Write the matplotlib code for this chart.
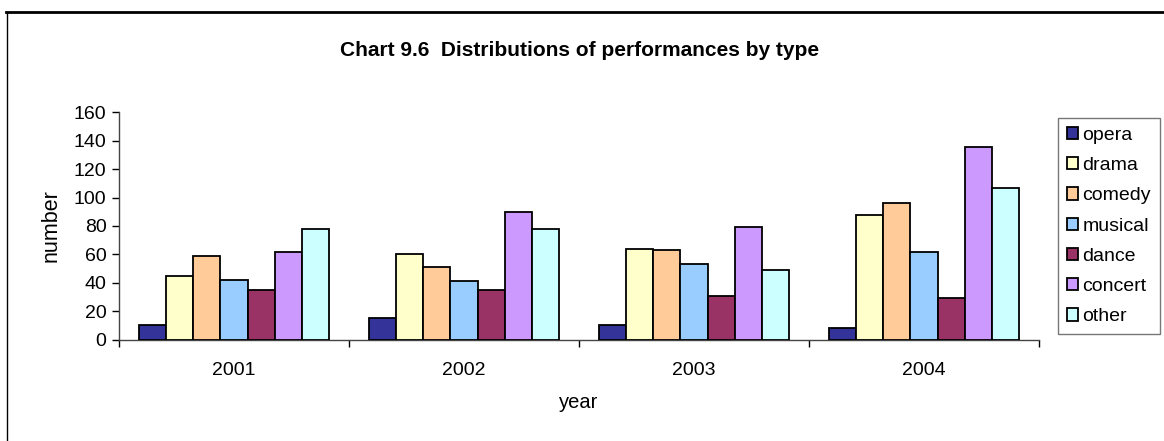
import numpy as np
import matplotlib.pyplot as plt
from matplotlib.lines import Line2D

plt.rcParams['font.family'] = ['Liberation Sans', 'DejaVu Sans']

years = ['2001', '2002', '2003', '2004']
types = ['opera', 'drama', 'comedy', 'musical', 'dance', 'concert', 'other']
opera = [10, 15, 10, 8]
drama = [45, 60, 64, 88]
comedy = [59, 51, 63, 96]
musical = [42, 41, 53, 62]
dance = [35, 35, 31, 29]
concert = [62, 90, 79, 136]
other = [78, 78, 49, 107]
colors = ['#333399', '#FFFFCC', '#FFCC99', '#99CCFF', '#993366', '#CC99FF', '#CCFFFF']

series = [opera, drama, comedy, musical, dance, concert, other]

W, H = 1164, 441
fig = plt.figure(figsize=(W / 100, H / 100), dpi=100)
ax = fig.add_axes([119 / W, 1 - 339.5 / H, (1039 - 119) / W, (339.5 - 112.5) / H])

n = len(types)
bw = 1 / (n + 1.5)
x = np.arange(len(years))
for i, (name, vals) in enumerate(zip(types, series)):
    offs = (i - (n - 1) / 2) * bw
    ax.bar(x + offs, vals, width=bw, color=colors[i], edgecolor='black',
           linewidth=1.3, label=name, zorder=3)

ax.set_xlim(-0.5, len(years) - 0.5)
ax.set_ylim(0, 160)
ax.set_yticks(range(0, 161, 20))
ax.set_xticks(x)
ax.set_xticklabels(years)
ax.set_xticks(np.arange(len(years) + 1) - 0.5, minor=True)
ax.tick_params(axis='x', which='major', length=0, pad=16, labelsize=14)
ax.tick_params(axis='x', which='minor', length=5, direction='out', width=1)
ax.tick_params(axis='y', length=5, direction='out', width=1, pad=4, labelsize=14)
for s in ['top', 'right']:
    ax.spines[s].set_visible(False)
for s in ['left', 'bottom']:
    ax.spines[s].set_color('#444444')
    ax.spines[s].set_linewidth(1)

ax.set_ylabel('number', fontsize=15.5, labelpad=9)
ax.set_xlabel('year', fontsize=14.5, labelpad=10)

fig.text(580 / W, 1 - 50 / H, 'Chart 9.6  Distributions of performances by type',
         ha='center', va='center', fontsize=15, fontweight='bold')

leg = ax.legend(loc='upper left', bbox_to_anchor=(1058 / W, 1 - 118 / H),
                bbox_transform=fig.transFigure, borderaxespad=0,
                fancybox=False, edgecolor='#555555', fontsize=14,
                handlelength=0.6, handleheight=0.6, handletextpad=0.2,
                labelspacing=0.68, borderpad=0.45)
leg.get_frame().set_linewidth(1)
for h in leg.legend_handles:
    h.set_linewidth(1.3)

# outer chart frame
fig.add_artist(Line2D([6 / W, 1.0], [1 - 12 / H, 1 - 12 / H],
                      transform=fig.transFigure, color='black', linewidth=2))
fig.add_artist(Line2D([6.5 / W, 6.5 / W], [1 - 12 / H, 0],
                      transform=fig.transFigure, color='black', linewidth=1))

fig.savefig('out.png', dpi=100)
